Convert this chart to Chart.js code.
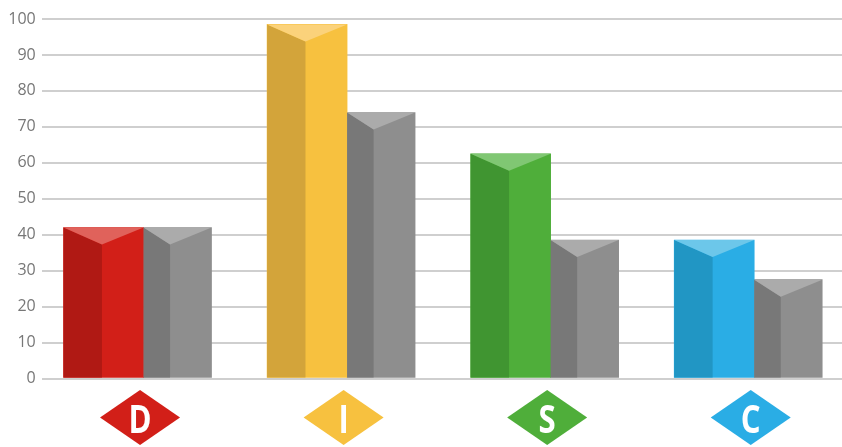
<!DOCTYPE html>
<html>
<head>
<meta charset="utf-8">
<script src="https://cdn.jsdelivr.net/npm/chart.js@4.4.0/dist/chart.umd.min.js"></script>
<style>
  html, body { margin: 0; padding: 0; background: #fff; overflow: hidden; }
  /* plot runs a little past the right edge of the window, like the original */
  #wrap { width: 856px; height: 447px; }
</style>
</head>
<body>
<div id="wrap"><canvas id="discChart"></canvas></div>
<script>
// data
var categories = ["D", "I", "S", "C"];
var profileValues = [42, 98.5, 62.5, 38.5];
var compareValues = [42, 74, 38.5, 27.5];

// colours per category: right face, left face, top
var frontColors = ["#d21f18", "#f7c13f", "#4fae3a", "#2aade5"];
var sideColors = ["#b01914", "#d3a43a", "#409531", "#2196c4"];
var topColors = ["#e0625b", "#fbd27b", "#80c773", "#6cc7ea"];
var grayFront = "#8e8e8e", graySide = "#787878", grayTop = "#ababab";

var TOP_DEPTH = 17;

var bar3d = {
  id: "bar3d",
  afterDatasetsDraw: function (chart) {
    var c = chart.ctx;
    chart.data.datasets.forEach(function (ds, di) {
      var meta = chart.getDatasetMeta(di);
      var splitRatio = di === 0 ? 0.48 : 0.39;
      meta.data.forEach(function (bar, i) {
        var p = bar.getProps(["x", "y", "base", "width"], true);
        var left = p.x - p.width / 2, right = p.x + p.width / 2;
        var split = left + p.width * splitRatio;
        var top = p.y, base = p.base;
        c.save();
        c.fillStyle = di === 0 ? sideColors[i] : graySide;
        c.beginPath();
        c.moveTo(left, top);
        c.lineTo(split, top + TOP_DEPTH);
        c.lineTo(split, base);
        c.lineTo(left, base);
        c.closePath();
        c.fill();
        c.fillStyle = di === 0 ? topColors[i] : grayTop;
        c.beginPath();
        c.moveTo(left, top);
        c.lineTo(right, top);
        c.lineTo(split, top + TOP_DEPTH);
        c.closePath();
        c.fill();
        c.restore();
      });
    });
  },
  afterDraw: function (chart) {
    var c = chart.ctx;
    var xs = chart.scales.x;
    var cy = 417.5;
    categories.forEach(function (lab, i) {
      var cx = xs.getPixelForTick(i) - 3.5;
      c.save();
      c.fillStyle = frontColors[i];
      c.beginPath();
      c.moveTo(cx - 40, cy);
      c.lineTo(cx, cy - 27.5);
      c.lineTo(cx + 40, cy);
      c.lineTo(cx, cy + 27.5);
      c.closePath();
      c.fill();
      c.translate(cx, 433);
      c.scale(0.8, 1);
      c.fillStyle = "#ffffff";
      c.font = "bold 39px 'Open Sans'";
      c.textAlign = "center";
      c.textBaseline = "alphabetic";
      c.fillText(lab, 0, 0);
      c.restore();
    });
  }
};

var chart = new Chart(document.getElementById("discChart"), {
  type: "bar",
  data: {
    labels: categories,
    datasets: [
      {
        label: "Profile",
        data: profileValues,
        backgroundColor: frontColors,
        barThickness: 80,
      },
      {
        label: "Compare",
        data: compareValues,
        backgroundColor: grayFront,
        barThickness: 68,
      },
    ],
  },
  options: {
    responsive: true,
    maintainAspectRatio: false,
    animation: false,
    layout: { padding: { top: 19, right: 0, left: 0, bottom: 0 } },
    plugins: {
      legend: { display: false },
      tooltip: { enabled: false },
    },
    scales: {
      x: {
        grid: { display: false },
        border: { display: false },
        ticks: { display: false },
        afterFit: function (s) { s.height = 68.5; },
      },
      y: {
        min: 0,
        max: 100,
        ticks: {
          stepSize: 10,
          padding: 6,
          color: "#777777",
          font: { family: "'Open Sans'", size: 16 },
        },
        grid: { color: "#cfcfcf", lineWidth: 2, drawTicks: false },
        border: { display: false },
        afterFit: function (s) { s.width = 41.75; },
      },
    },
  },
  plugins: [bar3d],
});
</script>
</body>
</html>
